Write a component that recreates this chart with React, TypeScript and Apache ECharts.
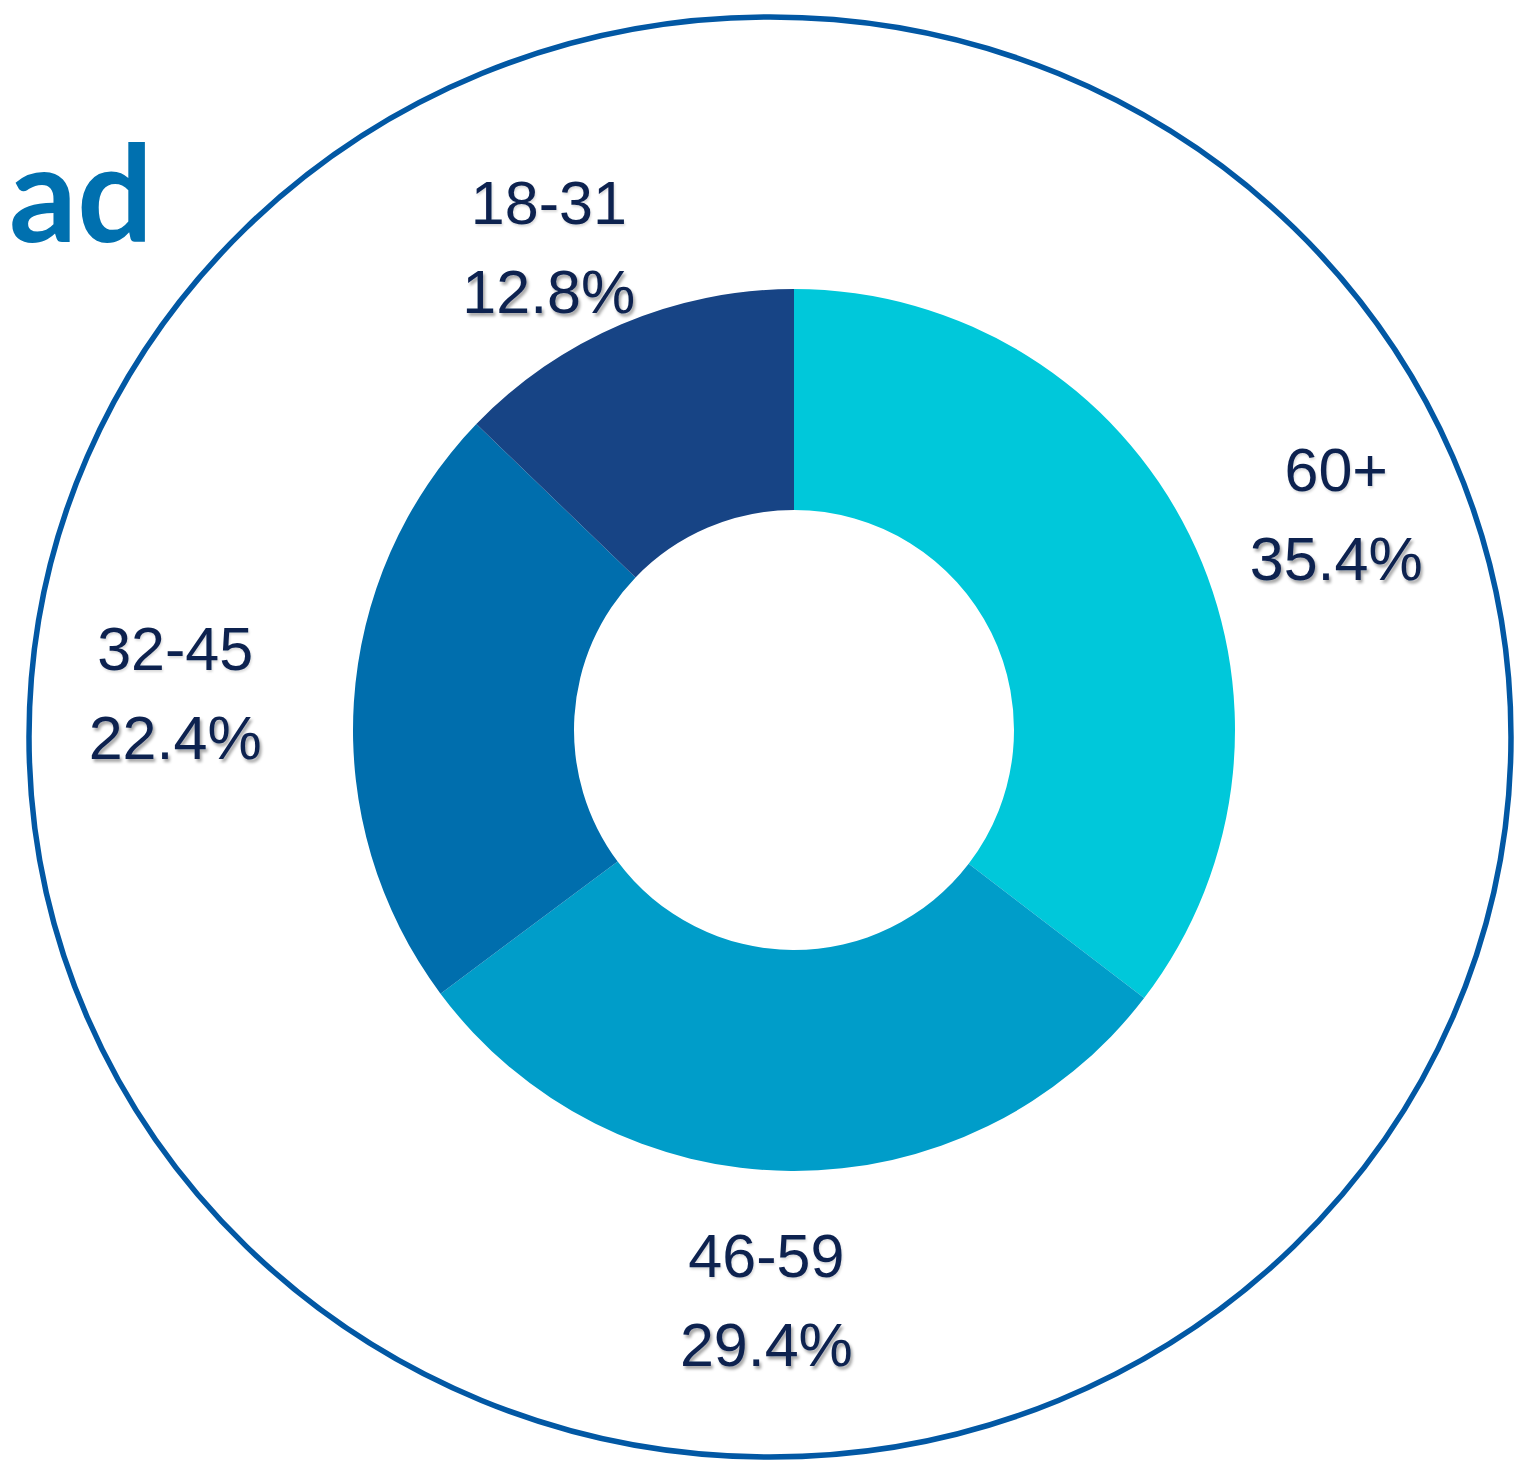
import React, { useEffect, useRef } from "react";
import * as echarts from "echarts";

const categories = ["60+", "46-59", "32-45", "18-31"];
const values = [35.4, 29.4, 22.4, 12.8];
const colors = ["#00C8DA", "#009DC9", "#006EAD", "#174485"];
// label nudges per slice (dx, dy)
const labelNudges: [number, number][] = [
  [24, 40],
  [-24, -7],
  [-42, 0],
  [-19, 49],
];
const titleText = "ad";

export default function App() {
  const ref = useRef<HTMLDivElement>(null);
  useEffect(() => {
    document.body.style.margin = "0";
    const chart = echarts.init(ref.current!, undefined, { renderer: "svg" });
    const data = categories.map((name, i) => ({
      name,
      value: values[i],
      itemStyle: { color: colors[i] },
    }));
    chart.setOption({
      animation: false,
      backgroundColor: "#ffffff",
      graphic: [
        {
          type: "ellipse",
          shape: { cx: 770, cy: 737, rx: 741, ry: 720 },
          style: { fill: "none", stroke: "#0258A4", lineWidth: 5.5 },
          silent: true,
        },
        {
          type: "text",
          x: 153,
          y: 190,
          style: {
            text: titleText,
            font: "bold 134px Lato",
            fill: "#0070AF",
            align: "right",
            verticalAlign: "middle",
          },
        },
      ],
      series: [
        {
          type: "pie",
          center: [794, 730],
          radius: [220, 441],
          startAngle: 90,
          clockwise: true,
          silent: true,
          label: { show: false },
          labelLine: { show: false },
          itemStyle: { borderWidth: 0 },
          data,
        },
        {
          type: "pie",
          center: [794, 730],
          radius: [574, 576],
          startAngle: 90,
          clockwise: true,
          silent: true,
          itemStyle: { color: "rgba(0,0,0,0)", borderWidth: 0 },
          labelLine: { show: false },
          label: {
            show: true,
            position: "inside",
            formatter: (p: any) => `{n|${p.name}}\n{p|${Number(p.value).toFixed(1)}%}`,
            rich: {
              n: {
                fontSize: 61,
                fontFamily: "Liberation Sans",
                color: "#0B2150",
                lineHeight: 89,
                textShadowColor: "rgba(0,0,0,0.15)",
                textShadowBlur: 2,
                textShadowOffsetX: 1,
                textShadowOffsetY: 2,
              },
              p: {
                fontSize: 61,
                fontFamily: "Liberation Sans",
                color: "#0B2150",
                lineHeight: 89,
                textShadowColor: "rgba(0,0,0,0.35)",
                textShadowBlur: 3,
                textShadowOffsetX: 2,
                textShadowOffsetY: 3,
              },
            },
          },
          labelLayout: (params: any) => {
            const n = labelNudges[params.dataIndex] || [0, 0];
            return { dx: n[0], dy: n[1] };
          },
          data: categories.map((name, i) => ({ name, value: values[i] })),
        },
      ],
    });
    return () => chart.dispose();
  }, []);
  return (
    <div
      ref={ref}
      style={{ position: "fixed", left: 0, top: 0, width: 1515, height: 1461 }}
    />
  );
}
